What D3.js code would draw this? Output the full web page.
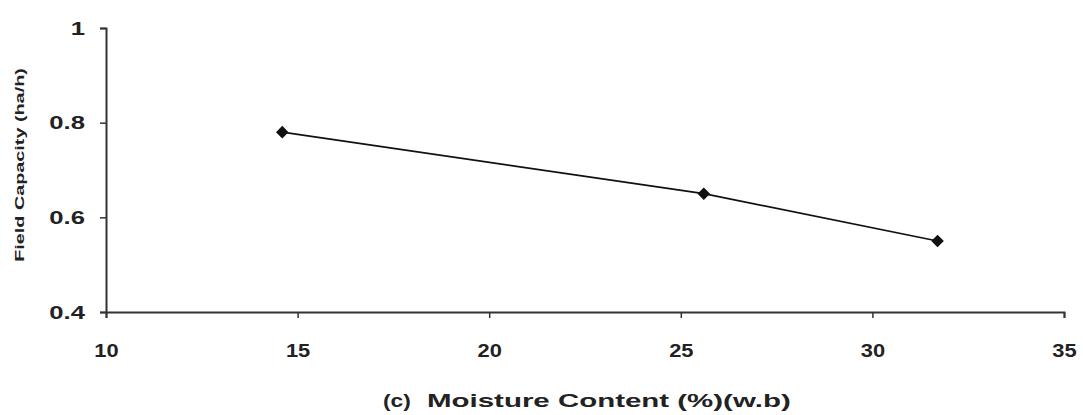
<!DOCTYPE html>
<html>
<head>
<meta charset="utf-8">
<script src="https://cdn.jsdelivr.net/npm/d3@7"></script>
<style>
  body { margin: 0; background: #fff; }
  text { font-family: "Liberation Sans", Arial, sans-serif; fill: #222; }
</style>
</head>
<body>
<div class="chart"></div>
<script>
// data
var moisture = [14.6, 25.6, 31.7];
var capacity = [0.78, 0.65, 0.55];
var xTicks = [10, 15, 20, 25, 30, 35];
var yTicks = [0.4, 0.6, 0.8, 1];

var w = 1083, h = 415;
var svg = d3.select("div.chart").append("svg")
            .attr("width", w)
            .attr("height", h);

var x = d3.scaleLinear().domain([10, 35]).range([106, 1064]);
var y = d3.scaleLinear().domain([0.4, 1]).range([312, 28]);

// the scanned figure has wide lettering, stretch text a bit
function stretch(sel, k) {
  sel.each(function() {
    var len = this.getComputedTextLength();
    d3.select(this).attr("textLength", len * k).attr("lengthAdjust", "spacingAndGlyphs");
  });
}

// x axis
var xAxis = svg.append("g")
    .attr("transform", "translate(0," + y(0.4) + ")")
    .call(d3.axisBottom(x).tickValues(xTicks).tickSize(6).tickPadding(26).tickFormat(d3.format("d")));
xAxis.select(".domain").attr("stroke", "#333").attr("stroke-width", 2);
xAxis.selectAll(".tick line").attr("stroke", "#333").attr("stroke-width", 1.5);
xAxis.selectAll("text").attr("font-size", 19).attr("font-weight", "bold").attr("fill", "#222")
     .call(stretch, 1.15);

// y axis
var yAxis = svg.append("g")
    .attr("transform", "translate(" + x(10) + ",0)")
    .call(d3.axisLeft(y).tickValues(yTicks).tickSize(6).tickPadding(15)
          .tickFormat(function(d){ return d === 1 ? "1" : d3.format(".1f")(d); }));
yAxis.select(".domain").attr("stroke", "#333").attr("stroke-width", 2);
yAxis.selectAll(".tick line").attr("stroke", "#333").attr("stroke-width", 1.5);
yAxis.selectAll("text").attr("font-size", 19).attr("font-weight", "bold").attr("fill", "#222")
     .call(stretch, 1.35);

// series
var pts = moisture.map(function(m, i){ return [m, capacity[i]]; });
var line = d3.line().x(function(d){ return x(d[0]); }).y(function(d){ return y(d[1]); });

svg.append("path")
   .datum(pts)
   .attr("d", line)
   .attr("fill", "none")
   .attr("stroke", "#111")
   .attr("stroke-width", 1.7);

svg.selectAll(".pt")
   .data(pts)
   .enter()
   .append("path")
   .attr("d", d3.symbol().type(d3.symbolDiamond2).size(100))
   .attr("transform", function(d){ return "translate(" + x(d[0]) + "," + y(d[1]) + ")"; })
   .attr("fill", "#111");

// axis titles
svg.append("text")
   .attr("transform", "translate(24,165)rotate(-90)")
   .attr("text-anchor", "middle")
   .attr("font-size", 12)
   .attr("font-weight", "bold")
   .attr("fill", "#444")
   .text("Field Capacity (ha/h)")
   .call(stretch, 1.65);

svg.append("text")
   .attr("x", 383)
   .attr("y", 407)
   .attr("font-size", 19)
   .attr("font-weight", "bold")
   .text("(c)")
   .call(stretch, 1.2);

svg.append("text")
   .attr("x", 427)
   .attr("y", 407)
   .attr("font-size", 19)
   .attr("font-weight", "bold")
   .text("Moisture Content (%)(w.b)")
   .call(stretch, 1.55);
</script>
</body>
</html>
